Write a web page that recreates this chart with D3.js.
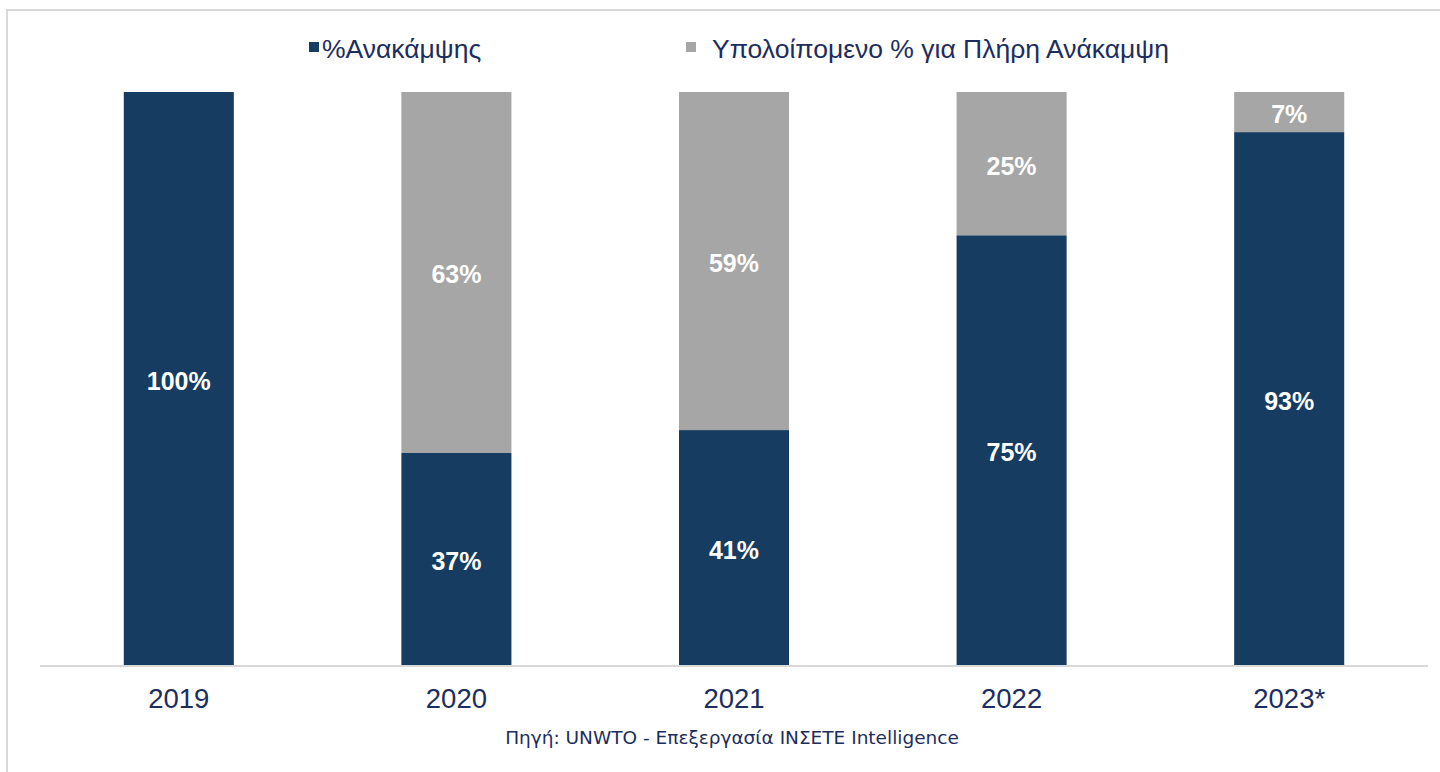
<!DOCTYPE html>
<html>
<head>
<meta charset="utf-8">
<script src="https://cdn.jsdelivr.net/npm/d3@7"></script>
<style>
html,body{margin:0;padding:0;background:#fff;}
svg{display:block;}
</style>
</head>
<body>
<svg id="chart" width="1440" height="772"></svg>
<script>
const categories = ["2019", "2020", "2021", "2022", "2023*"];
const recovery = [100, 37, 41, 75, 93];
const remaining = [0, 63, 59, 25, 7];
const seriesNames = ["%Ανακάμψης", "Υπολοίπομενο % για Πλήρη Ανάκαμψη"];
const sourceText = "Πηγή: UNWTO - Επεξεργασία ΙΝΣΕΤΕ Intelligence";

const W = 1440, H = 772;
const colors = ["#173c61", "#a6a6a6"];
const textNavy = "#1c2d60";
const svg = d3.select("#chart");

// frame
svg.append("line").attr("x1", 7).attr("x2", 7).attr("y1", 10).attr("y2", H).attr("stroke", "#d9d9d9").attr("stroke-width", 2);
svg.append("line").attr("x1", 6).attr("x2", W).attr("y1", 10).attr("y2", 10).attr("stroke", "#d9d9d9").attr("stroke-width", 2);

const x = d3.scaleBand().domain(categories).range([40, 1428]).paddingInner(0.6036).paddingOuter(0.3018);
const y = d3.scaleLinear().domain([0, 100]).range([665, 92]);

const data = categories.map((c, i) => ({cat: c, rec: recovery[i], rem: remaining[i]}));
const stack = d3.stack().keys(["rec", "rem"])(data);

const g = svg.append("g");
stack.forEach((layer, li) => {
  g.selectAll(null).data(layer).enter().append("rect")
    .attr("x", d => x(d.data.cat))
    .attr("width", x.bandwidth())
    .attr("y", d => y(d[1]))
    .attr("height", d => y(d[0]) - y(d[1]))
    .attr("fill", colors[li]);
  g.selectAll(null).data(layer.filter(d => d[1] - d[0] > 0)).enter().append("text")
    .attr("x", d => x(d.data.cat) + x.bandwidth() / 2)
    .attr("y", d => (y(d[0]) + y(d[1])) / 2 + 11)
    .attr("text-anchor", "middle")
    .attr("fill", "#ffffff")
    .attr("font-family", "Liberation Sans, Arial, sans-serif")
    .attr("font-weight", "bold")
    .attr("font-size", 25)
    .text(d => (d[1] - d[0]) + "%");
});

// axis
const axis = svg.append("g").attr("transform", "translate(0,666)")
  .call(d3.axisBottom(x).tickSize(0).tickPadding(22));
axis.select(".domain").attr("stroke", "#d9d9d9").attr("stroke-width", 2).attr("d", "M40,0H1428");
axis.selectAll("text").attr("font-family", "Liberation Sans, Arial, sans-serif").attr("font-size", 27.5).attr("fill", textNavy);

// legend
const legendItems = [{x: 309, tx: 322}, {x: 686, tx: 712}];
legendItems.forEach((it, i) => {
  svg.append("rect").attr("x", it.x).attr("y", 42).attr("width", 10).attr("height", 10).attr("fill", colors[i]);
  svg.append("text").attr("x", it.tx).attr("y", 58)
    .attr("font-family", "Liberation Sans, Arial, sans-serif").attr("font-size", 26.5).attr("fill", textNavy)
    .text(seriesNames[i]);
});

// source
svg.append("text").attr("x", 732).attr("y", 744).attr("text-anchor", "middle")
  .attr("font-family", "DejaVu Sans, Verdana, sans-serif").attr("font-size", 18.5).attr("fill", textNavy)
  .text(sourceText);
</script>
</body>
</html>
